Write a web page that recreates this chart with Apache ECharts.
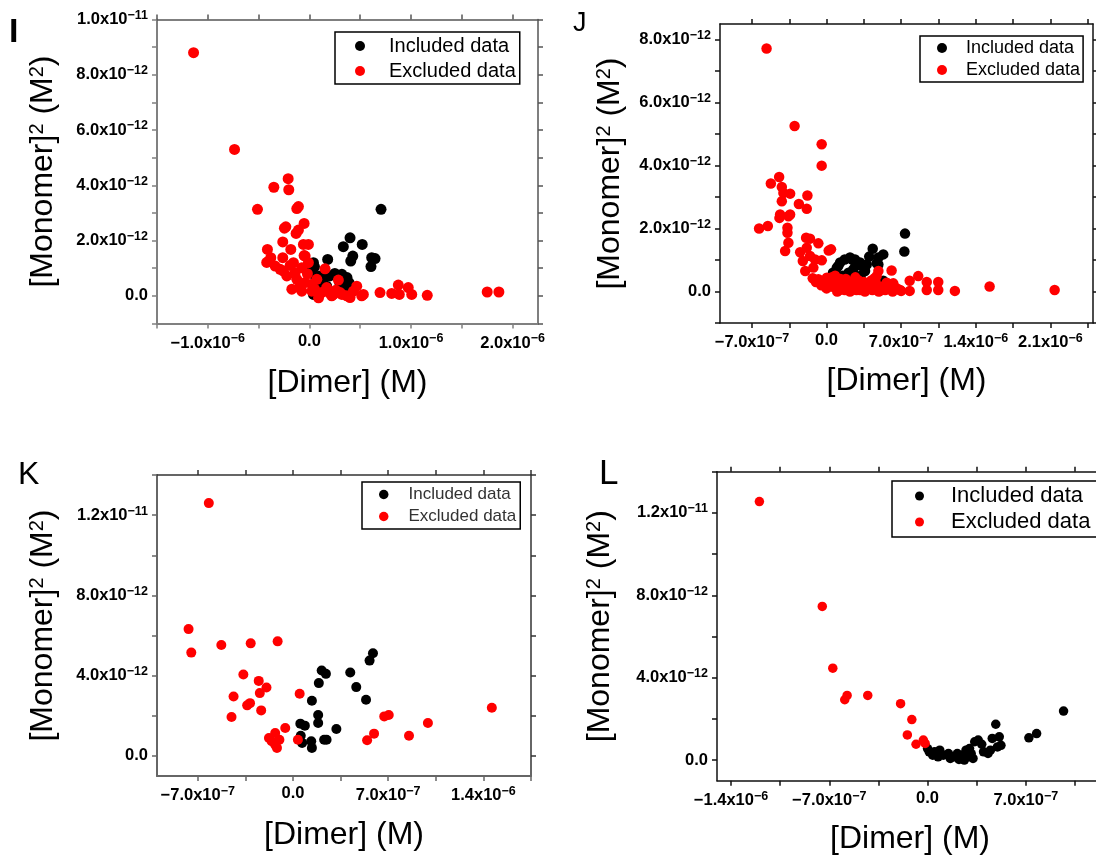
<!DOCTYPE html>
<html>
<head>
<meta charset="utf-8">
<script src="https://cdn.jsdelivr.net/npm/echarts@6/dist/echarts.min.js"></script>
<style>
  html, body { margin: 0; padding: 0; background: #fff; }
  #chart { width: 1096px; height: 856px; }
</style>
</head>
<body>
<div id="chart"></div>
<script>
// x 单位 1e-6 M，y 单位 1e-12 M^2
// 面板 I
const iIncluded = [
  [0.705, 3.13], [0.40, 2.10], [0.334, 1.78], [0.52, 1.86], [0.427, 1.44], [0.407, 1.26],
  [0.613, 1.38], [0.606, 1.06], [0.646, 1.35], [0.18, 1.32], [0.04, 1.20], [0.03, 1.10],
  [0.05, 1.05], [0.20, 0.72], [0.25, 0.81], [0.32, 0.78], [0.37, 0.66], [0.39, 0.48],
  [0.14, 0.66], [0.09, 0.54], [0.105, 0.72], [0.056, 0.72], [0.07, 0.35], [0.04, 0.05],
  [0.17, 0.35], [0.09, 0.6], [0.30, 0.45], [0.35, 0.3], [0.02, 0.9]
]
const iExcluded = [
  [-1.14, 8.80], [-0.737, 5.30], [-0.511, 3.13], [-0.35, 3.93], [-0.209, 4.24], [-0.203, 3.84],
  [-0.124, 3.16], [-0.108, 3.23], [-0.246, 2.45], [-0.232, 2.50], [-0.052, 2.62], [-0.108, 2.38],
  [-0.131, 2.26], [-0.262, 1.95], [-0.413, 1.68], [-0.183, 1.68], [-0.059, 1.86], [-0.01, 1.86],
  [-0.262, 1.38], [-0.40, 1.26], [-0.38, 1.38], [-0.42, 1.21], [-0.052, 1.46], [-0.288, 0.96],
  [-0.222, 0.72], [-0.19, 1.10], [0.154, 0.98], [0.285, 0.57], [-0.337, 1.08], [-0.157, 1.2],
  [-0.042, 1.44], [-0.256, 0.9], [-0.14, 0.84], [-0.075, 1.02], [-0.01, 1.2], [-0.124, 0.6],
  [-0.042, 0.48], [-0.173, 0.24], [-0.075, 0.17], [0.024, 0.17], [0.12, 0.12], [0.22, 0.0],
  [0.32, 0.05], [0.09, -0.07], [0.024, 0.42], [0.073, 0.6], [-0.1, 0.3], [-0.02, 0.8],
  [0.05, 0.25], [0.17, 0.3], [0.2, 0.1], [0.26, 0.2], [0.236, 0.05], [0.302, 0.12],
  [0.368, 0.0], [0.433, 0.17], [0.466, 0.35], [0.515, 0.0], [0.531, 0.05], [0.40, -0.06],
  [0.695, 0.12], [0.81, 0.09], [0.875, 0.39], [0.885, 0.05], [0.973, 0.30], [1.007, 0.05],
  [1.16, 0.02], [1.75, 0.14], [1.865, 0.14]
]
// 面板 J
const jIncluded = [
  [0.736, 1.84], [0.73, 1.27], [0.433, 1.36], [0.532, 1.18], [0.40, 1.11], [0.486, 1.08],
  [0.377, 0.86], [0.361, 0.65], [0.314, 0.92], [0.486, 0.86], [0.532, 0.34], [0.24, 1.02],
  [0.17, 1.02], [0.27, 0.81], [0.11, 0.81], [0.06, 0.60], [0.47, 0.9], [0.206, 0.6],
  [0.32, 0.5], [0.127, 0.92], [0.22, 1.08], [0.267, 1.02], [0.096, 0.76], [0.33, 0.81],
  [0.25, 0.7], [0.15, 0.5], [0.08, 0.45]
]
const jExcluded = [
  [-0.563, 7.72], [-0.30, 5.26], [-0.046, 4.68], [-0.046, 4.0], [-0.445, 3.64], [-0.523, 3.43],
  [-0.42, 3.32], [-0.405, 3.13], [-0.342, 3.11], [-0.18, 3.05], [-0.26, 2.78], [-0.42, 2.87],
  [-0.186, 2.63], [-0.342, 2.45], [-0.358, 2.39], [-0.436, 2.45], [-0.442, 2.34], [-0.633, 2.0],
  [-0.551, 2.08], [-0.367, 2.03], [-0.367, 1.87], [-0.192, 1.71], [-0.155, 1.68], [-0.077, 1.53],
  [-0.358, 1.55], [-0.389, 1.29], [-0.248, 1.25], [-0.186, 1.39], [0.042, 1.34], [0.02, 1.30],
  [-0.223, 0.97], [-0.155, 1.13], [-0.108, 1.02], [-0.045, 0.99], [-0.2, 0.65], [-0.124, 0.76],
  [-0.077, 0.39], [0.002, 0.44], [0.05, 0.34], [-0.13, 0.42], [-0.1, 0.3], [0.486, 0.65],
  [0.61, 0.67], [0.47, 0.49], [0.78, 0.34], [0.86, 0.49], [0.94, 0.30], [1.048, 0.30],
  [1.048, 0.05], [0.94, 0.05], [0.78, 0.02], [0.70, 0.02], [1.204, 0.02], [1.53, 0.16],
  [2.14, 0.05], [0.626, 0.26], [0.564, 0.28], [0.439, 0.13], [0.377, 0.18], [0.314, 0.05],
  [0.50, 0.02], [0.59, 0.09], [0.69, 0.05], [-0.05, 0.2], [0.0, 0.1], [0.03, 0.25],
  [0.06, 0.15], [0.1, 0.3], [0.12, 0.05], [0.15, 0.2], [0.18, 0.4], [0.2, 0.1],
  [0.22, 0.0], [0.25, 0.25], [0.28, 0.05], [0.3, 0.35], [0.33, 0.15], [0.36, 0.0],
  [0.4, 0.2], [0.43, 0.05], [0.46, 0.3], [0.49, 0.0], [0.52, 0.15], [0.55, 0.05],
  [0.58, 0.25], [0.62, 0.0], [0.66, 0.1], [0.05, 0.45], [0.08, 0.5], [0.13, 0.4],
  [0.27, 0.45], [0.1, 0.0], [0.35, 0.3], [0.45, 0.42], [0.09, 0.2], [0.17, 0.05],
  [0.24, 0.15], [0.38, 0.08], [0.42, 0.35], [0.2, 0.3]
]
// 面板 K
const kIncluded = [
  [0.057, 1.01], [0.087, 1.51], [0.067, 0.65], [0.139, 0.40], [0.134, 0.73], [0.054, 1.61],
  [0.139, 2.75], [0.185, 2.04], [0.185, 1.64], [0.190, 3.63], [0.211, 4.26], [0.242, 4.09],
  [0.229, 0.81], [0.247, 0.81], [0.319, 1.34], [0.421, 4.16], [0.465, 3.43], [0.537, 2.80],
  [0.563, 4.75], [0.588, 5.12]
]
const kExcluded = [
  [-0.619, 12.6], [-0.768, 6.32], [-0.748, 5.15], [-0.527, 5.53], [-0.311, 5.61], [-0.113, 5.71],
  [-0.365, 4.06], [-0.252, 3.74], [-0.195, 3.41], [-0.244, 3.13], [-0.437, 2.96], [-0.316, 2.63],
  [-0.337, 2.52], [-0.234, 2.27], [-0.452, 1.94], [0.049, 3.10], [-0.057, 1.39], [-0.177, 0.89],
  [-0.131, 1.14], [-0.100, 0.81], [-0.131, 0.56], [-0.118, 0.40], [-0.157, 0.73], [0.036, 0.81],
  [0.545, 0.78], [0.596, 1.11], [0.671, 1.97], [0.704, 2.04], [0.853, 1.01], [0.992, 1.64],
  [1.462, 2.40]
]
// 面板 L
const lIncluded = [
  [0, 0.56], [0.037, 0.24], [0.05, 0.40], [0.087, 0.48], [0.112, 0.24], [0.149, 0.32],
  [0.187, 0.16], [0.212, 0.32], [0.224, 0.03], [0.249, 0.24], [0.274, 0.48], [0.286, 0.16],
  [0.311, 0.32], [0.324, 0.08], [0.336, 0.89], [0.361, 0.97], [0.386, 0.77], [0.431, 0.32],
  [0.461, 1.05], [0.486, 1.74], [0.498, 0.64], [0.511, 1.13], [0.523, 0.72], [0.722, 1.08],
  [0.777, 1.29], [0.969, 2.38], [0.012, 0.40], [0.075, 0.16], [0.162, 0.08], [0.262, 0.0],
  [0.299, 0.56], [0.399, 0.40], [0.448, 0.48]
]
const lExcluded = [
  [-1.198, 12.55], [-0.75, 7.46], [-0.675, 4.46], [-0.590, 2.93], [-0.573, 3.14], [-0.426, 3.14],
  [-0.192, 2.74], [-0.112, 1.97], [-0.144, 1.22], [-0.082, 0.77], [-0.030, 0.97], [-0.017, 0.81]
]

// 刻度（同单位）
const xTicksI = [-1.5, -1, -0.5, 0, 0.5, 1, 1.5, 2]
const xLabelsI = [-1, 0, 1, 2]
const yTicksI = [-1, 0, 1, 2, 3, 4, 5, 6, 7, 8, 9, 10]
const yLabelsI = [0, 2, 4, 6, 8, 10]
const xTicksJ = [-0.7, -0.35, 0, 0.35, 0.7, 1.05, 1.4, 1.75, 2.1, 2.45]
const xLabelsJ = [-0.7, 0, 0.7, 1.4, 2.1]
const yTicksJ = [-1, 0, 1, 2, 3, 4, 5, 6, 7, 8]
const yLabelsJ = [0, 2, 4, 6, 8]
const xTicksK = [-0.7, -0.35, 0, 0.35, 0.7, 1.05, 1.4, 1.75]
const xLabelsK = [-0.7, 0, 0.7, 1.4]
const yTicksK = [0, 2, 4, 6, 8, 10, 12, 14]
const yLabelsK = [0, 4, 8, 12]
const xTicksL = [-1.4, -1.05, -0.7, -0.35, 0, 0.35, 0.7, 1.05, 1.4]
const xLabelsL = [-1.4, -0.7, 0, 0.7]
const yTicksL = [0, 2, 4, 6, 8, 10, 12, 14]
const yLabelsL = [0, 4, 8, 12]

const names = ['Included data', 'Excluded data']
const colors = ['#000000', '#ff0000']
const FONT = 'Liberation Sans'
const TICK_FONT = 'Liberation Sans'

// 布局
const panels = [
  { letter: 'I', lx: 9, ly: 33, lsize: 34, lbold: true,
    grid: { left: 157, top: 19.5, width: 381, height: 304 },
    x: [-1.5, 2.25, xTicksI, xLabelsI], y: [-1, 10, yTicksI, yLabelsI],
    inc: iIncluded, exc: iExcluded, size: 11,
    axisMain: ['#808080', 2], axisSide: ['#555', 1.5], xGap: 44, yGap: 97,
    legend: { left: 335, top: 32, fontSize: 20, gap: 5, pad: [4, 4, 3, 20], tpad: 19, mark: 10, color: '#000' } },
  { letter: 'J', lx: 573, ly: 24, lsize: 27, lbold: false,
    grid: { left: 720, top: 24, width: 373, height: 299 },
    x: [-1.0, 2.5, xTicksJ, xLabelsJ], y: [-1, 8.5, yTicksJ, yLabelsJ],
    inc: jIncluded, exc: jExcluded, size: 10.5,
    axisMain: ['#111', 1.5], axisSide: ['#111', 1.5], xGap: 42, yGap: 93,
    legend: { left: 920, top: 36, fontSize: 18, gap: 4, pad: [3, 3, 3, 17], tpad: 14, mark: 10, color: '#000' } },
  { letter: 'K', lx: 18, ly: 475, lsize: 32, lbold: false,
    grid: { left: 157, top: 475, width: 374, height: 301 },
    x: [-1.0, 1.75, xTicksK, xLabelsK], y: [-1, 14, yTicksK, yLabelsK],
    inc: kIncluded, exc: kExcluded, size: 10,
    axisMain: ['#666', 2], axisSide: ['#333', 1.5], xGap: 43, yGap: 97,
    legend: { left: 362, top: 482, fontSize: 17, gap: 5, pad: [4, 4, 4, 17], tpad: 15, mark: 9.5, color: '#333' } },
  { letter: 'L', lx: 599, ly: 474, lsize: 35, lbold: false,
    grid: { left: 717, top: 471.7, width: 386, height: 309 },
    x: [-1.5, 1.25, xTicksL, xLabelsL], y: [-1, 14, yTicksL, yLabelsL],
    inc: lIncluded, exc: lExcluded, size: 9.5,
    axisMain: ['#111', 1.5], axisSide: ['#111', 1.5], xGap: 42, yGap: 100,
    legend: { left: 892, top: 481, fontSize: 22, gap: 4, pad: [4, 12, 4, 23], tpad: 22, mark: 9, color: '#000' } }
]

// 科学计数法标签
function sci (v, unit) {
  if (Math.abs(v) < 1e-9) return '{m|0.0}'
  const real = v * unit
  const exp = Math.floor(Math.log10(Math.abs(real)) + 1e-9)
  const mant = (Math.abs(real) / Math.pow(10, exp)).toFixed(1)
  return '{m|' + (real < 0 ? '−' : '') + mant + 'x10}{e|−' + (-exp) + '}'
}

const tickRich = {
  m: { fontFamily: TICK_FONT, fontWeight: 'bold', fontSize: 16.5, color: '#000' },
  e: { fontFamily: TICK_FONT, fontWeight: 'bold', fontSize: 12.5, color: '#000', padding: [0, 0, 8, 0] }
}
const nameStyle = {
  fontFamily: FONT, fontSize: 32, color: '#000',
  rich: { s: { fontFamily: FONT, fontSize: 20, color: '#000', padding: [0, 0, 13, 0] } }
}

const grid = [], xAxis = [], yAxis = [], series = [], legend = [], graphic = []
panels.forEach((p, i) => {
  grid.push(Object.assign({ containLabel: false, outerBoundsMode: 'none' }, p.grid))
  const tick = (vals, c) => ({ show: true, inside: false, length: 5, customValues: vals, lineStyle: { color: c[0], width: 1.5 } })
  // 下/上 x 轴
  xAxis.push({
    gridIndex: i, type: 'value', position: 'bottom', min: p.x[0], max: p.x[1],
    axisLine: { onZero: false, lineStyle: { color: p.axisMain[0], width: p.axisMain[1] } },
    axisTick: tick(p.x[2], p.axisMain),
    axisLabel: { customValues: p.x[3], margin: 9, formatter: v => sci(v, 1e-6), rich: tickRich },
    splitLine: { show: false },
    name: '[Dimer] (M)', nameLocation: 'middle', nameGap: p.xGap, nameTextStyle: nameStyle
  })
  xAxis.push({
    gridIndex: i, type: 'value', position: 'top', min: p.x[0], max: p.x[1],
    axisLine: { onZero: false, lineStyle: { color: p.axisSide[0], width: p.axisSide[1] } },
    axisTick: tick(p.x[2], p.axisSide),
    axisLabel: { show: false }, splitLine: { show: false }
  })
  // 左/右 y 轴
  yAxis.push({
    gridIndex: i, type: 'value', position: 'left', min: p.y[0], max: p.y[1],
    axisLine: { show: true, onZero: false, lineStyle: { color: p.axisMain[0], width: p.axisMain[1] } },
    axisTick: tick(p.y[2], p.axisMain),
    axisLabel: { customValues: p.y[3], margin: 9, formatter: v => sci(v, 1e-12), rich: tickRich },
    splitLine: { show: false },
    name: '[Monomer]{s|2} (M{s|2})', nameLocation: 'middle', nameGap: p.yGap, nameTextStyle: nameStyle
  })
  yAxis.push({
    gridIndex: i, type: 'value', position: 'right', min: p.y[0], max: p.y[1],
    axisLine: { show: true, onZero: false, lineStyle: { color: p.axisSide[0], width: p.axisSide[1] } },
    axisTick: tick(p.y[2], p.axisSide),
    axisLabel: { show: false }, splitLine: { show: false }
  })
  // 散点
  ;[p.inc, p.exc].forEach((d, k) => {
    series.push({
      name: names[k], type: 'scatter', xAxisIndex: 2 * i, yAxisIndex: 2 * i,
      data: d, symbol: 'circle', symbolSize: p.size,
      itemStyle: { color: colors[k], opacity: 1 },
      emphasis: { disabled: true }
    })
  })
  // 图例
  const lg = p.legend
  legend.push({
    data: names, orient: 'vertical', left: lg.left, top: lg.top,
    icon: 'circle', itemWidth: lg.mark, itemHeight: lg.mark, itemGap: lg.gap,
    padding: lg.pad, borderColor: '#000', borderWidth: 1.5, borderRadius: 0,
    backgroundColor: '#fff', selectedMode: false,
    textStyle: { fontFamily: FONT, fontSize: lg.fontSize, lineHeight: lg.fontSize, color: lg.color, padding: [0, 0, 0, lg.tpad] }
  })
  // 面板字母
  graphic.push({
    type: 'text', x: p.lx, y: p.ly,
    style: { text: p.letter, fill: '#000', align: 'left', verticalAlign: 'middle',
      font: (p.lbold ? 'bold ' : '') + p.lsize + 'px "' + FONT + '"' }
  })
})

const chart = echarts.init(document.getElementById('chart'), null, { renderer: 'canvas' })
chart.setOption({
  animation: false,
  backgroundColor: '#fff',
  grid, xAxis, yAxis, series, legend, graphic
})
window.addEventListener('resize', chart.resize)
</script>
</body>
</html>
